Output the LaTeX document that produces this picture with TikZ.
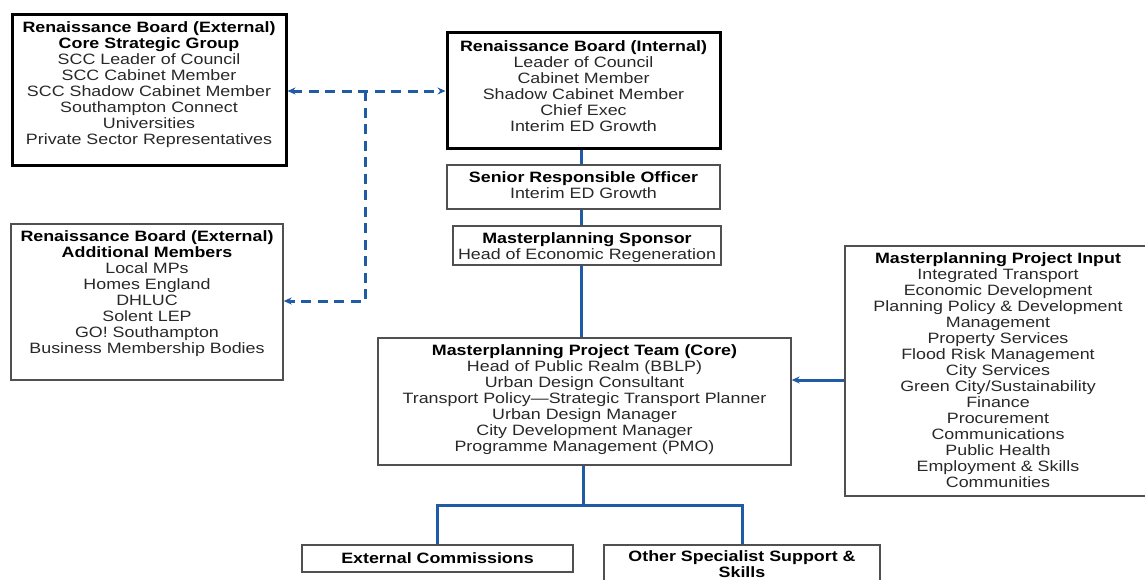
\documentclass[tikz,border=0pt]{standalone}
\usepackage{fontspec}
\setmainfont{Liberation Sans}[FakeStretch=1.19]
\usetikzlibrary{arrows.meta}
\definecolor{conn}{RGB}{31,92,165}
\definecolor{edgegray}{RGB}{80,80,80}
\definecolor{txtgray}{RGB}{40,40,40}
\begin{document}
\begin{tikzpicture}[x=1pt,y=-1pt,
  box/.style={draw=edgegray, line width=1.3pt, rectangle, inner sep=0pt},
  thickbox/.style={draw=black, line width=3pt, rectangle, inner sep=0pt},
  txt/.style={anchor=north, align=center, inner sep=0pt, font=\fontsize{15}{16}\selectfont, text=txtgray},
  solidc/.style={draw=conn, line width=3pt},
  dashc/.style={draw=conn, line width=3pt, dash pattern=on 10pt off 6.5pt},
  tipend/.style={-{Stealth[length=8pt,width=7pt]}},
  tipboth/.style={{Stealth[length=8pt,width=7pt]}-{Stealth[length=8pt,width=7pt]}}
]
\useasboundingbox (0,0) rectangle (1145,579);

% boxes
\node[thickbox, minimum width=274pt, minimum height=151pt] (ext) at (149,89.5) {};
\node[thickbox, minimum width=273pt, minimum height=116pt] (intb) at (583.5,90) {};
\node[box, minimum width=273pt, minimum height=44pt] (sro) at (583.5,187) {};
\node[box, minimum width=268pt, minimum height=39pt] (spon) at (587,245.5) {};
\node[box, minimum width=272pt, minimum height=156pt] (add) at (147,302) {};
\node[box, minimum width=413pt, minimum height=127pt] (core) at (584.5,401.5) {};
\node[box, minimum width=310pt, minimum height=250pt] (inp) at (1000,371) {};
\node[box, minimum width=271pt, minimum height=27pt] (ec) at (437.5,558.5) {};
\node[box, minimum width=276pt, minimum height=36pt] (oss) at (742,563) {};

% texts
\node[txt] (extT) at (149,21) {\textcolor{black}{\textbf{Renaissance Board (External)}}\\
  \textcolor{black}{\textbf{Core Strategic Group}}\\
  SCC Leader of Council\\SCC Cabinet Member\\SCC Shadow Cabinet Member\\
  Southampton Connect\\Universities\\Private Sector Representatives};
\node[txt] (intT) at (583.5,40) {\textcolor{black}{\textbf{Renaissance Board (Internal)}}\\
  Leader of Council\\Cabinet Member\\Shadow Cabinet Member\\Chief Exec\\Interim ED Growth};
\node[txt] (sroT) at (583.5,171) {\textcolor{black}{\textbf{Senior Responsible Officer}}\\Interim ED Growth};
\node[txt] (sponT) at (587,232) {\textcolor{black}{\textbf{Masterplanning Sponsor}}\\Head of Economic Regeneration};
\node[txt] (addT) at (147,230) {\textcolor{black}{\textbf{Renaissance Board (External)}}\\
  \textcolor{black}{\textbf{Additional Members}}\\
  Local MPs\\Homes England\\DHLUC\\Solent LEP\\GO! Southampton\\Business Membership Bodies};
\node[txt] (coreT) at (584.5,344) {\textcolor{black}{\textbf{Masterplanning Project Team (Core)}}\\
  Head of Public Realm (BBLP)\\Urban Design Consultant\\Transport Policy—Strategic Transport Planner\\
  Urban Design Manager\\City Development Manager\\Programme Management (PMO)};
\node[txt] (inpT) at (998,252) {\textcolor{black}{\textbf{Masterplanning Project Input}}\\
  Integrated Transport\\Economic Development\\Planning Policy \& Development\\Management\\
  Property Services\\Flood Risk Management\\City Services\\Green City/Sustainability\\
  Finance\\Procurement\\Communications\\Public Health\\Employment \& Skills\\Communities};
\node[txt] (ecT) at (437.5,552) {\textcolor{black}{\textbf{External Commissions}}};
\node[txt] (ossT) at (742,550) {\textcolor{black}{\textbf{Other Specialist Support \&}}\\\textcolor{black}{\textbf{Skills}}};

% connectors
\coordinate (jn) at (365,91);
\coordinate (jd) at (365,301);
\draw[dashc, tipboth] (ext.east |- jn) -- (intb.west |- jn);
\draw[dashc, tipend] (jn) -- (jd) -- (add.east |- jd);

\coordinate (vx) at (581,0);
\draw[solidc] (intb.south -| vx) -- (sro.north -| vx);
\draw[solidc] (sro.south -| vx) -- (spon.north -| vx);
\draw[solidc] (spon.south -| vx) -- (core.north -| vx);

\coordinate (ia) at (0,380);
\draw[solidc, tipend] (inp.west |- ia) -- (core.east |- ia);

\coordinate (hb) at (583,505);
\draw[solidc] (core.south -| hb) -- (hb);
\draw[solidc] (ec.north) -- (ec.north |- hb) -- (oss.north |- hb) -- (oss.north);
\end{tikzpicture}
\end{document}
